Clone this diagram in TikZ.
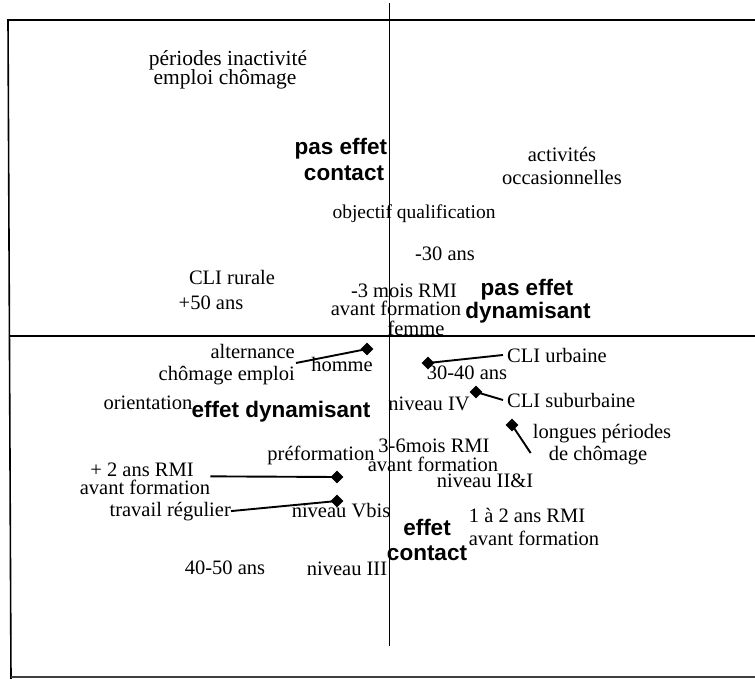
\documentclass[tikz,border=0pt]{standalone}
\usepackage{fontspec}
\setmainfont{Liberation Serif}
\setsansfont{Liberation Sans}
\usetikzlibrary{shapes.geometric,calc}

\begin{document}
\begin{tikzpicture}[x=1pt,y=-1pt,
  lbl/.style={font=\fontsize{20.5}{22}\selectfont, inner sep=0pt, anchor=base},
  big/.style={font=\fontsize{21.5}{22}\selectfont},
  small/.style={font=\fontsize{19.5}{22}\selectfont},
  fac/.style={font=\fontsize{22.5}{24}\selectfont\sffamily\bfseries, inner sep=0pt, anchor=base},
  dot/.style={diamond, fill=black, draw=none, inner sep=0pt, minimum size=13pt},
  lead/.style={line width=1.9pt},
  axisline/.style={line width=1.4pt},
  frameline/.style={line width=1.6pt}]

\useasboundingbox (0,0) rectangle (755,679);

% frame (open on the right)
\draw[frameline] (755,20) -- (8,20) -- (11,679);
\draw[line width=1.2pt, black!75] (11,677) -- (755,677);

% factor axes
\draw[axisline] (10,336) -- (755,336);
\draw[axisline] (389.5,3) -- (389.5,646);

% upper left quadrant
\node[lbl, big] (per1) at (228,66) {périodes inactivité};
\node[lbl, big] (per2) at (225,85) {emploi chômage};
\node[fac] (pec1) at (341,155) {pas effet};
\node[fac] (pec2) at (344,181) {contact};
\node[lbl] (rur) at (232,284) {CLI rurale};
\node[lbl] (p50) at (211,309) {+50 ans};

% upper right quadrant
\node[lbl] (act1) at (562,162) {activités};
\node[lbl] (act2) at (562,185) {occasionnelles};
\node[lbl, small] (obj) at (414,219) {objectif qualification};
\node[lbl] (m30) at (445,260) {-30 ans};
\node[lbl] (m3a) at (404,297) {-3 mois RMI};
\node[lbl] (m3b) at (396,315) {avant formation};
\node[lbl] (fem) at (416,335) {femme};
\node[fac] (ped1) at (527,295) {pas effet};
\node[fac] (ped2) at (528,318) {dynamisant};

% lower left quadrant
\node[lbl, anchor=base east] (alt1) at (295,358) {alternance};
\node[lbl, anchor=base east] (alt2) at (295,380) {chômage emploi};
\node[lbl] (hom) at (342,371) {homme};
\node[lbl] (ori) at (148,409) {orientation};
\node[fac] (ed) at (281,417) {effet dynamisant};
\node[lbl] (pref) at (321,460) {préformation};
\node[lbl] (p2a) at (142,476) {+ 2 ans RMI};
\node[lbl] (p2b) at (145,494) {avant formation};
\node[lbl, anchor=base east] (trav) at (231,516) {travail régulier};
\node[lbl] (vbis) at (341,517) {niveau Vbis};
\node[lbl] (a4050) at (225,574) {40-50 ans};
\node[lbl] (niv3) at (347,575) {niveau III};

% lower right quadrant
\node[lbl, anchor=base west] (urb) at (507,362) {CLI urbaine};
\node[lbl] (a3040) at (467,379) {30-40 ans};
\node[lbl, anchor=base west] (sub) at (507,407) {CLI suburbaine};
\node[lbl] (niv4) at (429,410) {niveau IV};
\node[lbl] (lon1) at (602,438) {longues périodes};
\node[lbl] (lon2) at (598,460) {de chômage};
\node[lbl] (m36a) at (434,452) {3-6mois RMI};
\node[lbl] (m36b) at (433,471) {avant formation};
\node[lbl] (niv21) at (485,487) {niveau II\&I};
\node[lbl] (a12a) at (527,522) {1 à 2 ans RMI};
\node[lbl] (a12b) at (534,545) {avant formation};
\node[fac] (ec1) at (427,535) {effet};
\node[fac] (ec2) at (427,560) {contact};

% point markers
\node[dot] (dh) at (367,349) {};
\node[dot] (du) at (428,363) {};
\node[dot] (ds) at (476,392) {};
\node[dot] (dl) at (512,425) {};
\node[dot] (dp) at (337,477) {};
\node[dot] (dv) at (337,501) {};

% leader lines from labels to markers
\draw[lead] ($(alt1.base east)+(1,5)$) -- (dh.center);
\draw[lead] (du.center) -- ($(urb.west)+(-4,0)$);
\draw[lead] (ds.center) -- ($(sub.base west)+(-4,-7)$);
\draw[lead] (dl.center) -- ($(lon1.base west)+(-2,15)$);
\draw[lead] ($(p2b.north east)+(0,-3)$) -- (dp.center);
\draw[lead] (trav.east) -- (dv.center);
\end{tikzpicture}
\end{document}
